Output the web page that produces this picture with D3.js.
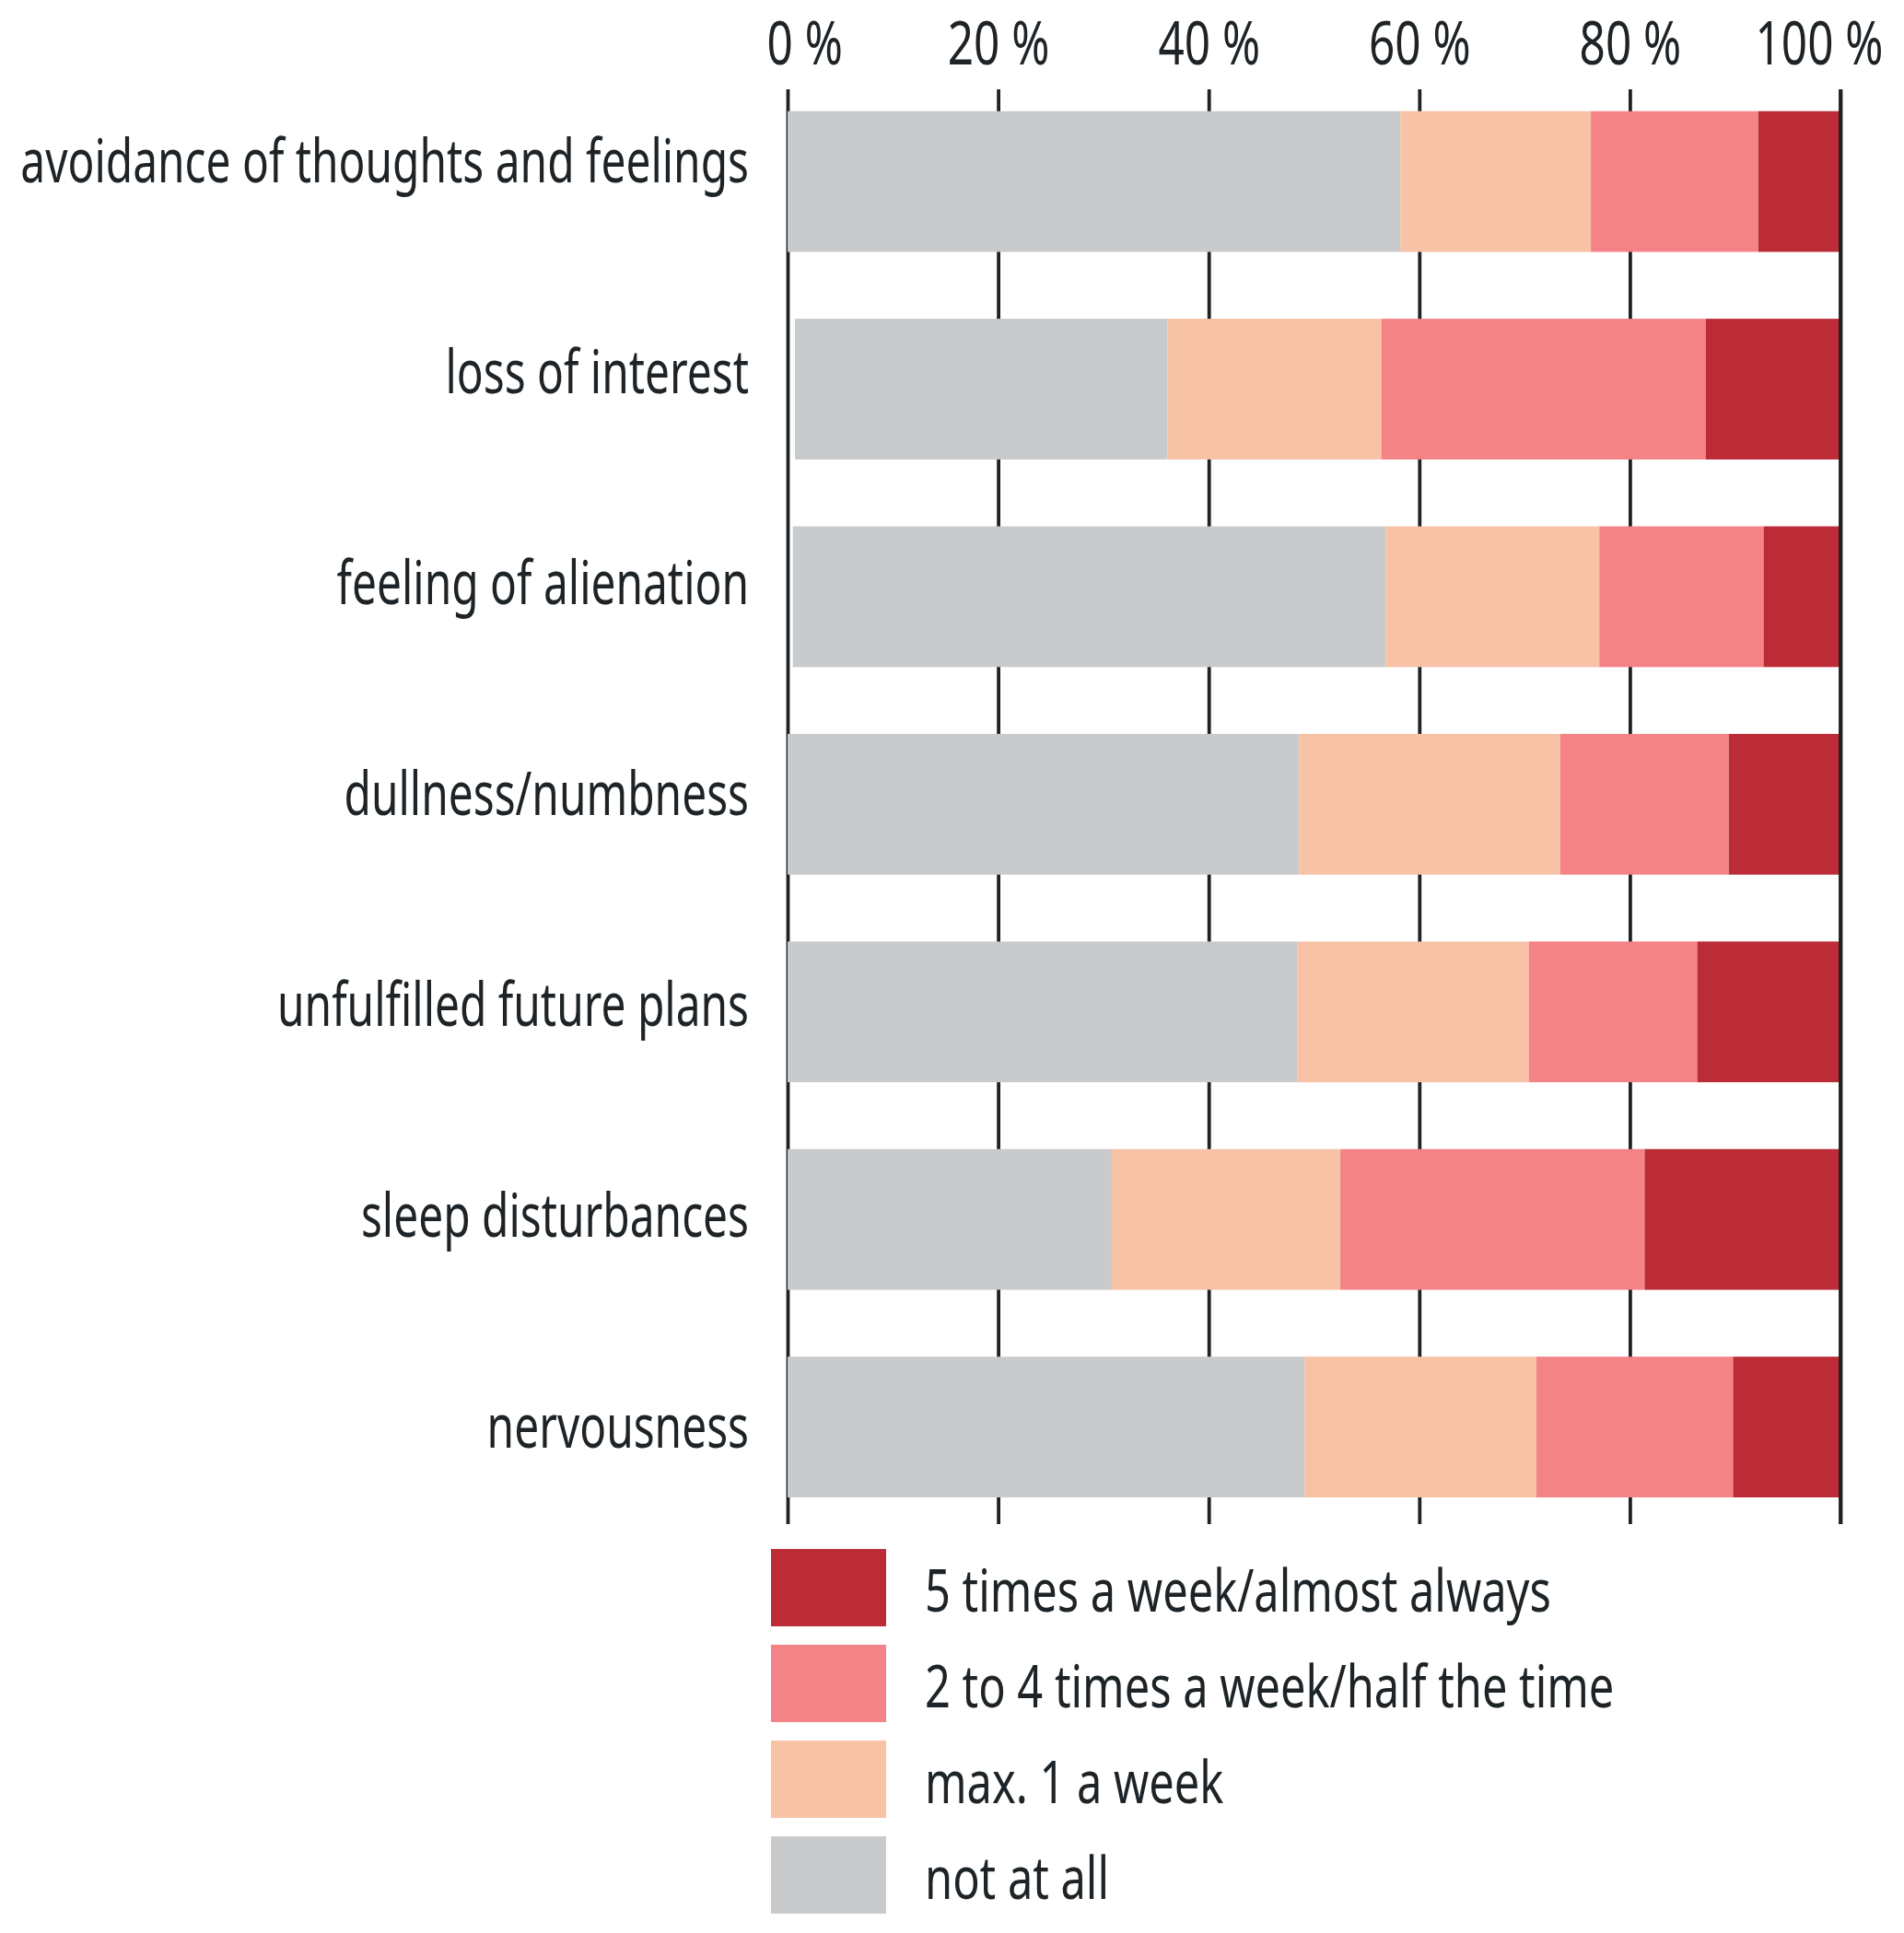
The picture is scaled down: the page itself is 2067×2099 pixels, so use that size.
<!DOCTYPE html>
<html>
<head>
<meta charset="utf-8">
<script src="https://cdn.jsdelivr.net/npm/d3@7"></script>
<style>
  body { margin: 0; background: #fff; }
  text { font-family: "Noto Sans", "Open Sans", sans-serif; fill: #1d2326; }
</style>
</head>
<body>
<script>
// categories (top to bottom)
var symptoms = ["avoidance of thoughts and feelings", "loss of interest", "feeling of alienation",
    "dullness/numbness", "unfulfilled future plans", "sleep disturbances", "nervousness"];

// answer groups, left to right in the bars
var answers = ["not at all", "max. 1 a week", "2 to 4 times a week/half the time", "5 times a week/almost always"];
var colors = ["#c8cacc", "#f7c2a5", "#f38387", "#bc2c36"];

// shares in percent, one array per answer group
var notAtAll  = [58.2, 35.4, 56.3, 48.6, 48.4, 30.8, 49.1];
var maxOnce   = [18.1, 20.3, 20.3, 24.8, 22.0, 21.7, 22.0];
var twoToFour = [15.9, 30.8, 15.6, 16.0, 16.0, 28.9, 18.7];
var fiveTimes = [ 7.8, 12.8,  7.3, 10.6, 13.6, 18.6, 10.2];

var tickValues = [0, 20, 40, 60, 80, 100];

var W = 2067, H = 2099;
var svg = d3.select("body").append("svg")
    .attr("width", W)
    .attr("height", H);

var rows = symptoms.map(function (s, i) {
    return { name: s, values: [notAtAll[i], maxOnce[i], twoToFour[i], fiveTimes[i]] };
});

var x = d3.scaleLinear().domain([0, 100]).range([855, 1998]);
var y = d3.scaleBand().domain(symptoms).range([120.7, 1626]).paddingInner(0.322).paddingOuter(0);
var yLabel = d3.scalePoint().domain(symptoms).range([198, 1572]);

var labelSize = 66, tickSize = 65, legendSize = 64;

// the original uses a condensed face: measure a sample and squeeze to its width
function squeeze(sample, size, targetWidth) {
    var probe = svg.append("text").attr("font-size", size).text(sample);
    var w = probe.node().getComputedTextLength();
    probe.remove();
    return targetWidth / w;
}
var sxLabel = squeeze(symptoms[0], labelSize, 791);
var sxTick = squeeze("100 %", tickSize, 139);
var sxLegend = squeeze(answers[3], legendSize, 680);

// gridlines + tick labels
var axis = svg.append("g")
    .attr("transform", "translate(0,97)")
    .call(d3.axisTop(x)
        .tickValues(tickValues)
        .tickSize(-(1655 - 97))
        .tickPadding(27)
        .tickFormat(function (d) { return d + " %"; }));

axis.select(".domain").remove();
axis.selectAll(".tick line")
    .attr("stroke", "#1d2326")
    .attr("stroke-width", 3.8);
axis.selectAll(".tick text")
    .attr("font-size", tickSize)
    .attr("font-family", null)
    .attr("fill", "#1d2326")
    .attr("transform", "scale(" + sxTick + ",1)")
    .each(function (d) {
        if (d === 0) d3.select(this).attr("text-anchor", "start").attr("x", -23 / sxTick);
        if (d === 100) d3.select(this).attr("text-anchor", "end").attr("x", 46 / sxTick);
    });

// stacked bars, drawn from the right end at 100 %
var bars = svg.append("g").selectAll("g")
    .data(rows)
    .enter()
    .append("g");

bars.selectAll("rect")
    .data(function (d) {
        var total = d3.sum(d.values);
        var start = 100 - total;
        return d.values.map(function (v, k) {
            var seg = { name: d.name, x0: start, x1: start + v, k: k };
            start += v;
            return seg;
        });
    })
    .enter()
    .append("rect")
    .attr("x", function (d) { return x(d.x0); })
    .attr("width", function (d) { return x(d.x1) - x(d.x0); })
    .attr("y", function (d) { return y(d.name); })
    .attr("height", y.bandwidth())
    .attr("fill", function (d) { return colors[d.k]; });

// redraw the 100 % line on top so the bars end against it
svg.append("line")
    .attr("x1", x(100)).attr("x2", x(100))
    .attr("y1", 97).attr("y2", 1655)
    .attr("stroke", "#1d2326")
    .attr("stroke-width", 3.8);

// category labels
svg.append("g").selectAll("text")
    .data(symptoms)
    .enter()
    .append("text")
    .attr("font-size", labelSize)
    .attr("text-anchor", "end")
    .attr("transform", function (d) { return "translate(813," + yLabel(d) + ") scale(" + sxLabel + ",1)"; })
    .text(function (d) { return d; });

// legend, strongest answer first
var legendItems = answers.map(function (a, k) { return { label: a, color: colors[k] }; }).reverse();

var legend = svg.append("g").selectAll("g")
    .data(legendItems)
    .enter()
    .append("g")
    .attr("transform", function (d, i) { return "translate(837," + (1682 + i * 104) + ")"; });

legend.append("rect")
    .attr("width", 125)
    .attr("height", 84)
    .attr("fill", function (d) { return d.color; });

legend.append("text")
    .attr("font-size", legendSize)
    .attr("transform", "translate(167,68) scale(" + sxLegend + ",1)")
    .text(function (d) { return d.label; });
</script>
</body>
</html>
